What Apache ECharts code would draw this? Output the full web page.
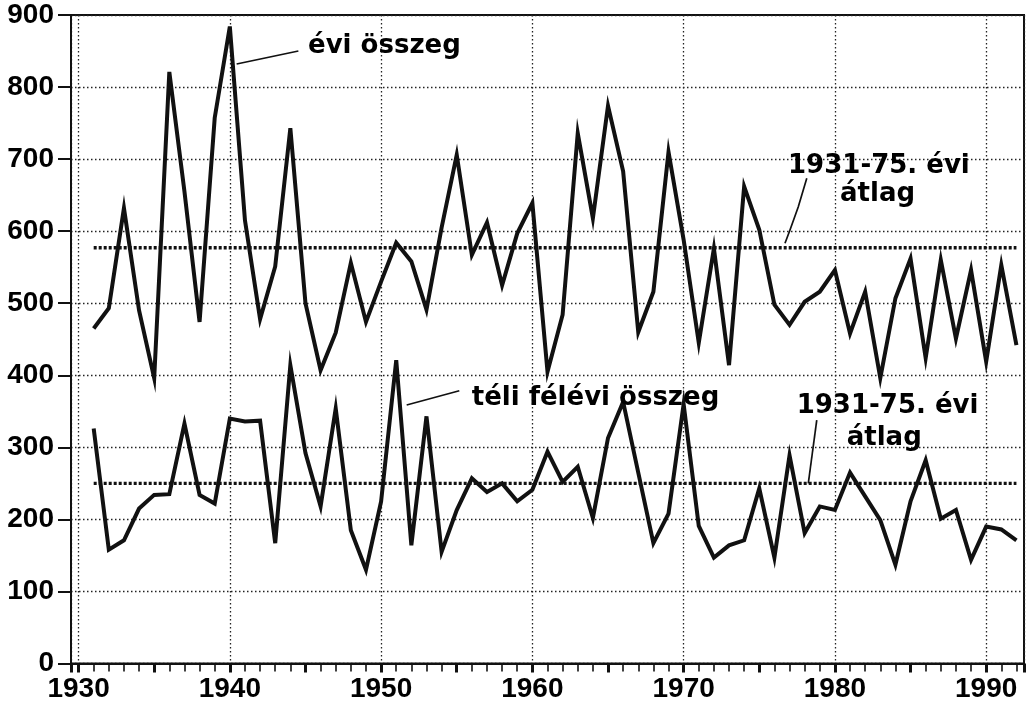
<!DOCTYPE html>
<html><head><meta charset="utf-8">
<script src="https://cdn.jsdelivr.net/npm/echarts@6/dist/echarts.min.js"></script>
<style>html,body{margin:0;padding:0;background:#fff}#c{width:1034px;height:705px}</style>
</head><body><div id="c"></div>
<script>
// ---- data ----
const years = [1931,1932,1933,1934,1935,1936,1937,1938,1939,1940,
  1941,1942,1943,1944,1945,1946,1947,1948,1949,1950,
  1951,1952,1953,1954,1955,1956,1957,1958,1959,1960,
  1961,1962,1963,1964,1965,1966,1967,1968,1969,1970,
  1971,1972,1973,1974,1975,1976,1977,1978,1979,1980,
  1981,1982,1983,1984,1985,1986,1987,1988,1989,1990,
  1991,1992];
const annualTotal = [465,493,632,490,396,821,655,474,757,884,
  615,478,551,743,500,407,459,556,474,530,
  584,558,491,605,706,567,612,525,597,639,
  405,484,736,618,774,683,460,516,710,588,
  445,576,414,662,602,498,470,502,516,546,
  458,516,396,507,562,424,560,451,546,419,
  553,442];
const winterTotal = [326,158,171,215,234,235,333,234,222,340,
  336,337,167,414,292,218,354,185,130,225,
  421,164,343,155,213,257,238,250,225,241,
  294,252,273,202,313,363,265,167,208,360,
  191,147,164,171,243,147,289,181,218,213,
  265,232,199,137,225,282,201,213,144,190,
  186,171];
const annualMean = 577;
const winterMean = 250;
const meanYears = [1931, 1992];
const yTickLabels = ['0','100','200','300','400','500','600','700','800','900'];
const xTickLabels = ['1930','1940','1950','1960','1970','1980','1990'];
const labelAnnual = 'évi összeg';
const labelWinter = 'téli félévi összeg';
const labelMean1 = '1931-75. évi';
const labelMean2 = 'átlag';

// ---- chart ----
const X_MIN = 1929.5, X_MAX = 1992.5;
const ink = '#111';
const axisFont = {fontFamily: '"Liberation Sans", Arial, sans-serif', fontWeight: 'bold', fontSize: 28, color: '#000'};
const annFont = '"DejaVu Sans", sans-serif';

const chart = echarts.init(document.getElementById('c'), null, {renderer: 'canvas'});

function pairs(xs, ys) { return xs.map((x, i) => [x, ys[i]]); }

const tickAxis = (step, len, w) => ({
  type: 'value', position: 'bottom', min: X_MIN, max: X_MAX,
  minInterval: step, maxInterval: step, splitNumber: Math.round((X_MAX - X_MIN) / step),
  axisLine: {show: false, onZero: false},
  axisTick: {show: true, length: len, lineStyle: {color: ink, width: w}},
  axisLabel: {show: false}, splitLine: {show: false}
});

const option = {
  animation: false,
  backgroundColor: '#fff',
  grid: {left: 71, right: 10, top: 15, bottom: 41.5, show: true, borderColor: ink, borderWidth: 2, containLabel: false},
  xAxis: [
    {
      type: 'value', position: 'bottom', min: X_MIN, max: X_MAX,
      minInterval: 10, maxInterval: 10, splitNumber: 6,
      axisLine: {show: true, onZero: false, lineStyle: {color: ink, width: 2}},
      axisTick: {show: true, length: 9, lineStyle: {color: ink, width: 3}},
      axisLabel: Object.assign({margin: 12, showMinLabel: true, showMaxLabel: true,
        formatter: v => { const s = String(Math.round(v)); return (Math.abs(v - Math.round(v)) < 1e-6 && xTickLabels.indexOf(s) >= 0) ? s : ''; }}, axisFont),
      splitLine: {show: true, lineStyle: {color: '#222', width: 1.3, type: [1.5, 2.5]}}
    },
    tickAxis(5, 9, 3),
    tickAxis(1, 8, 1.6)
  ],
  yAxis: {
    type: 'value', min: 0, max: 900, interval: 100,
    axisLine: {show: true, lineStyle: {color: ink, width: 2}},
    axisTick: {show: true, length: 13, lineStyle: {color: ink, width: 2}},
    axisLabel: Object.assign({margin: 17, formatter: v => yTickLabels[Math.round(v / 100)] || ''}, axisFont),
    splitLine: {show: true, lineStyle: {color: '#222', width: 1.3, type: [1.5, 2.5]}}
  },
  series: [
    {name: labelAnnual, type: 'line', data: pairs(years, annualTotal), showSymbol: false, symbol: 'none',
      lineStyle: {color: ink, width: 4, join: 'miter', miterLimit: 8}, z: 5},
    {name: labelWinter, type: 'line', data: pairs(years, winterTotal), showSymbol: false, symbol: 'none',
      lineStyle: {color: ink, width: 4, join: 'miter', miterLimit: 8}, z: 5},
    {name: 'mean1', type: 'line', data: pairs(meanYears, [annualMean, annualMean]), symbol: 'none',
      lineStyle: {color: ink, width: 3.4, type: [3, 2]}, z: 4},
    {name: 'mean2', type: 'line', data: pairs(meanYears, [winterMean, winterMean]), symbol: 'none',
      lineStyle: {color: ink, width: 3.4, type: [3, 2]}, z: 4}
  ]
};
chart.setOption(option);

// ---- annotations anchored in data coordinates ----
const annotations = {
  texts: [
    {t: labelAnnual, at: [1945.17, 856]},
    {t: labelWinter, at: [1955.99, 368]},
    {t: labelMean1, at: [1976.9, 690]},
    {t: labelMean2, at: [1980.34, 651]},
    {t: labelMean1, at: [1977.47, 357]},
    {t: labelMean2, at: [1980.78, 313]}
  ],
  leaders: [
    [[1940.45, 832], [1944.53, 850]],
    [[1951.69, 358.8], [1955.17, 378.6]],
    [[1978.14, 673.4], [1977.58, 634], [1977.03, 601.6], [1976.7, 583.2]],
    [[1978.8, 337.9], [1978.24, 250.1]]
  ]
};
const px = p => chart.convertToPixel({xAxisIndex: 0, yAxisIndex: 0}, p);
const graphics = [];
annotations.texts.forEach(a => {
  const p = px(a.at);
  graphics.push({type: 'text', x: p[0], y: p[1], z: 20,
    style: {text: a.t, font: 'bold 26px ' + annFont, fill: '#000', align: 'left', verticalAlign: 'middle'}});
});
annotations.leaders.forEach(l => {
  graphics.push({type: 'polyline', z: 20, shape: {points: l.map(px)},
    style: {stroke: ink, lineWidth: 1.7, fill: null}});
});
chart.setOption({graphic: graphics});
</script></body></html>
